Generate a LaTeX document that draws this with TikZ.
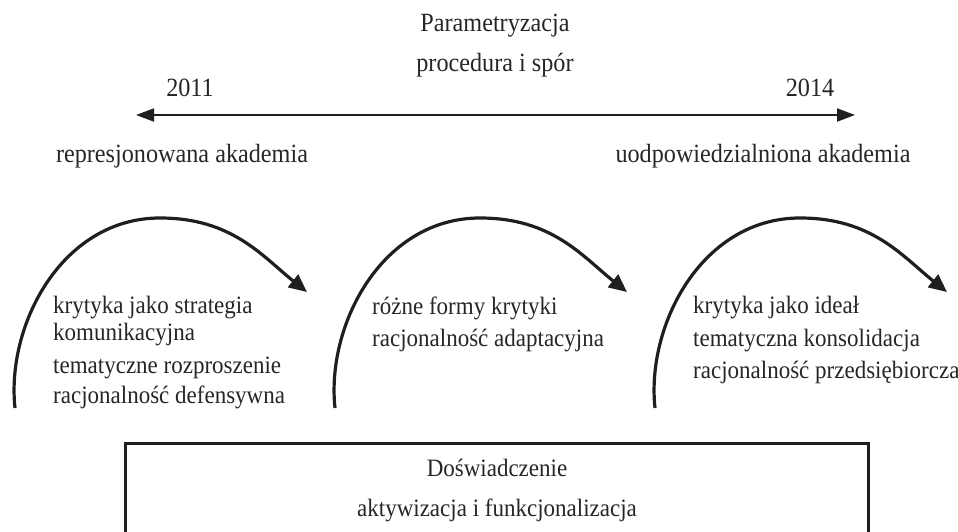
\documentclass[tikz,border=0pt]{standalone}
\usepackage{fontspec}
\setmainfont[FakeStretch=0.92]{Liberation Serif}
\usetikzlibrary{arrows.meta}
\begin{document}
\begin{tikzpicture}[x=1pt,y=-1pt,
  lbl/.style={inner sep=0pt, font=\fontsize{25}{30}\selectfont, text=black!85},
  toplbl/.style={inner sep=0pt, font=\fontsize{26.3}{30}\selectfont, text=black!85},
  arcarrow/.style={line width=3.2pt, draw=black!88, -{Triangle[length=18pt,width=16pt]}},
  timeline/.style={line width=2pt, draw=black!88, {Triangle[length=18pt,width=13pt]}-{Triangle[length=18pt,width=13pt]}},
  frame/.style={line width=3pt, draw=black!88}]
\useasboundingbox (0,0) rectangle (958,532);
% top
\node[toplbl, anchor=base] (t1) at (495,32) {Parametryzacja};
\node[toplbl, anchor=base] (t2) at (495,72) {procedura i spór};
\node[toplbl, anchor=base] (y1) at (190,97) {2011};
\node[toplbl, anchor=base] (y2) at (810,97) {2014};
\coordinate (L) at (136,115);
\coordinate (R) at (855,115);
\draw[timeline] (L) -- (R);
\node[toplbl, anchor=base] (a1) at (182,162) {represjonowana akademia};
\node[toplbl, anchor=base] (a2) at (763,162) {uodpowiedzialniona akademia};
% arcs
\foreach \s [count=\i] in {0,320,640}{
  \coordinate (s\i) at (15+\s,408);
  \coordinate (m\i) at (160+\s,218);
  \coordinate (e\i) at (307+\s,292);
  \draw[arcarrow] (s\i) .. controls (6+\s,325) and (62+\s,218) .. (m\i)
    .. controls (232+\s,218) and (262+\s,256) .. (e\i);
}
\node[lbl, anchor=base west] (c11) at (53,313) {krytyka jako strategia};
\node[lbl, anchor=base west] (c12) at (53,340) {komunikacyjna};
\node[lbl, anchor=base west] (c13) at (53,373) {tematyczne rozproszenie};
\node[lbl, anchor=base west] (c14) at (53,403) {racjonalność defensywna};
\node[lbl, anchor=base west] (c21) at (372,314) {różne formy krytyki};
\node[lbl, anchor=base west] (c22) at (372,346) {racjonalność adaptacyjna};
\node[lbl, anchor=base west] (c31) at (693,313) {krytyka jako ideał};
\node[lbl, anchor=base west] (c32) at (693,346) {tematyczna konsolidacja};
\node[lbl, anchor=base west] (c33) at (693,378) {racjonalność przedsiębiorcza};
% box
\coordinate (b1) at (125,532);
\coordinate (b2) at (125,443);
\coordinate (b3) at (868,443);
\coordinate (b4) at (868,532);
\draw[frame] (b1) -- (b2) -- (b3) -- (b4);
\node[lbl, anchor=base] (d1) at (497,476) {Doświadczenie};
\node[lbl, anchor=base] (d2) at (497,516) {aktywizacja i funkcjonalizacja};
\end{tikzpicture}
\end{document}
